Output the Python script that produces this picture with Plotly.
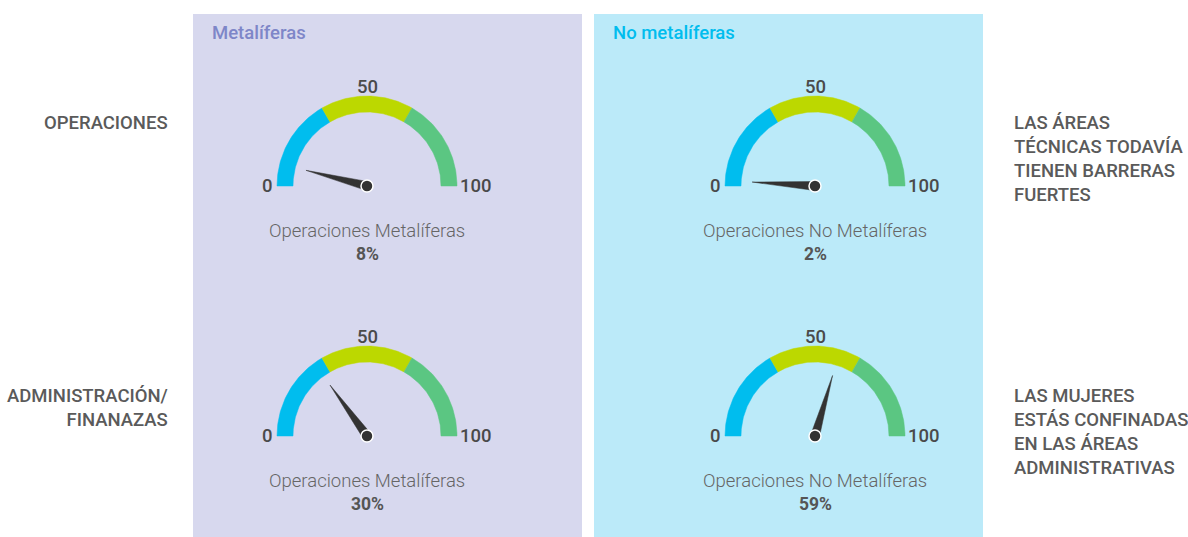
import numpy as np
import plotly.graph_objects as go

# ---- data -------------------------------------------------------------
groups = ["Metalíferas", "No metalíferas"]
group_title_colors = ["#7E86C8", "#00BDEE"]
panel_colors = ["#D7D8EE", "#BBEAF9"]

row_labels = ["OPERACIONES", "ADMINISTRACIÓN/<br>FINANAZAS"]
row_notes = [
    "LAS ÁREAS<br>TÉCNICAS TODAVÍA<br>TIENEN BARRERAS<br>FUERTES",
    "LAS MUJERES<br>ESTÁS CONFINADAS<br>EN LAS ÁREAS<br>ADMINISTRATIVAS",
]

gauge_names = [
    ["Operaciones Metalíferas", "Operaciones No Metalíferas"],
    ["Operaciones Metalíferas", "Operaciones No Metalíferas"],
]
metaliferas = [8, 30]
no_metaliferas = [2, 59]

band_edges = [0, 100 / 3, 200 / 3, 100]
band_colors = ["#00BDEE", "#BCD800", "#5BC682"]
tick_values = [0, 50, 100]
scale_max = 100

# ---- layout geometry (pixels) ----------------------------------------
W, H = 1188, 537
col_x = [367, 815]          # gauge centres
row_y = [186, 436]
panel_x = [(193, 582), (594, 983)]
r_out, r_in = 90, 74
needle_len, needle_half = 63, 4.5
TEXT = "#5A5A5A"
FONT = "Roboto"
FS = 18.5


def angle(v):
    return np.pi * (1 - v / scale_max)


def px(cx, cy, r, a):
    # y axis runs downward
    return cx + r * np.cos(a), cy - r * np.sin(a)


fig = go.Figure()

for ci in range(2):
    vals = [metaliferas, no_metaliferas][ci]
    for ri in range(2):
        cx, cy = col_x[ci], row_y[ri]
        # coloured bands
        for b in range(len(band_colors)):
            a = np.linspace(angle(band_edges[b]), angle(band_edges[b + 1]), 60)
            xo, yo = px(cx, cy, r_out, a)
            xi, yi = px(cx, cy, r_in, a[::-1])
            fig.add_trace(go.Scatter(
                x=np.concatenate([xo, xi, xo[:1]]),
                y=np.concatenate([yo, yi, yo[:1]]),
                mode="lines", fill="toself", fillcolor=band_colors[b],
                line=dict(width=0.5, color=band_colors[b]),
                hoverinfo="skip", showlegend=False))
        # needle
        v = vals[ri]
        a = angle(v)
        tx, ty = px(cx, cy, needle_len, a)
        b1x, b1y = px(cx, cy, needle_half, a + np.pi / 2)
        b2x, b2y = px(cx, cy, needle_half, a - np.pi / 2)
        fig.add_trace(go.Scatter(
            x=[b1x, tx, b2x, b1x], y=[b1y, ty, b2y, b1y],
            mode="lines", fill="toself", fillcolor="#333333",
            line=dict(width=0.5, color="#333333"),
            hoverinfo="skip", showlegend=False))
        fig.add_trace(go.Scatter(
            x=[cx], y=[cy], mode="markers",
            marker=dict(size=12, color="#333333", line=dict(width=1.5, color="white")),
            hoverinfo="skip", showlegend=False))
        # scale labels
        tick_font = dict(size=FS, color="#4A4A4A", family=FONT, weight=500)
        for t in tick_values:
            if t == tick_values[0]:
                fig.add_annotation(x=cx - r_out - 2, y=cy, text=str(t), xanchor="right",
                                   yanchor="middle", font=tick_font)
            elif t == tick_values[-1]:
                fig.add_annotation(x=cx + r_out + 1, y=cy, text=str(t), xanchor="left",
                                   yanchor="middle", font=tick_font)
            else:
                fig.add_annotation(x=cx, y=cy - r_out - 9, text=str(t), xanchor="center",
                                   yanchor="middle", font=tick_font)
        # name and value
        fig.add_annotation(x=cx, y=cy + 45, text=gauge_names[ri][ci], xanchor="center", yanchor="middle",
                           font=dict(size=FS, color="#666666", family=FONT, weight=300))
        fig.add_annotation(x=cx, y=cy + 68, text=f"{v}%", xanchor="center", yanchor="middle",
                           font=dict(size=17.5, color="#555555", family=FONT, weight="bold"))

# panel titles
for ci in range(2):
    fig.add_annotation(x=panel_x[ci][0] + 17, y=33, text=groups[ci], xanchor="left", yanchor="middle",
                       font=dict(size=FS, color=group_title_colors[ci], family=FONT, weight=500))

# row labels and notes
caps_font = dict(size=FS, color=TEXT, family=FONT, weight=500)
for ri in range(2):
    fig.add_annotation(x=170, y=[123, 408][ri], text=row_labels[ri], xanchor="right", yanchor="middle",
                       align="right", font=caps_font)
    fig.add_annotation(x=1012, y=[159, 432][ri], text=row_notes[ri], xanchor="left", yanchor="middle",
                       align="left", font=caps_font)

shapes = [dict(type="rect", xref="x", yref="y", x0=x0, x1=x1, y0=14, y1=H,
               fillcolor=panel_colors[i], line=dict(width=0), layer="below")
          for i, (x0, x1) in enumerate(panel_x)]

fig.update_layout(
    width=W, height=H, margin=dict(l=0, r=0, t=0, b=0),
    paper_bgcolor="white", plot_bgcolor="white",
    shapes=shapes,
    font=dict(family=FONT, size=FS, color="#444444"),
    xaxis=dict(range=[0, W], visible=False, fixedrange=True),
    yaxis=dict(range=[H, 0], visible=False, fixedrange=True),
)
fig.update_annotations(showarrow=False)

fig.write_html("out.html")
